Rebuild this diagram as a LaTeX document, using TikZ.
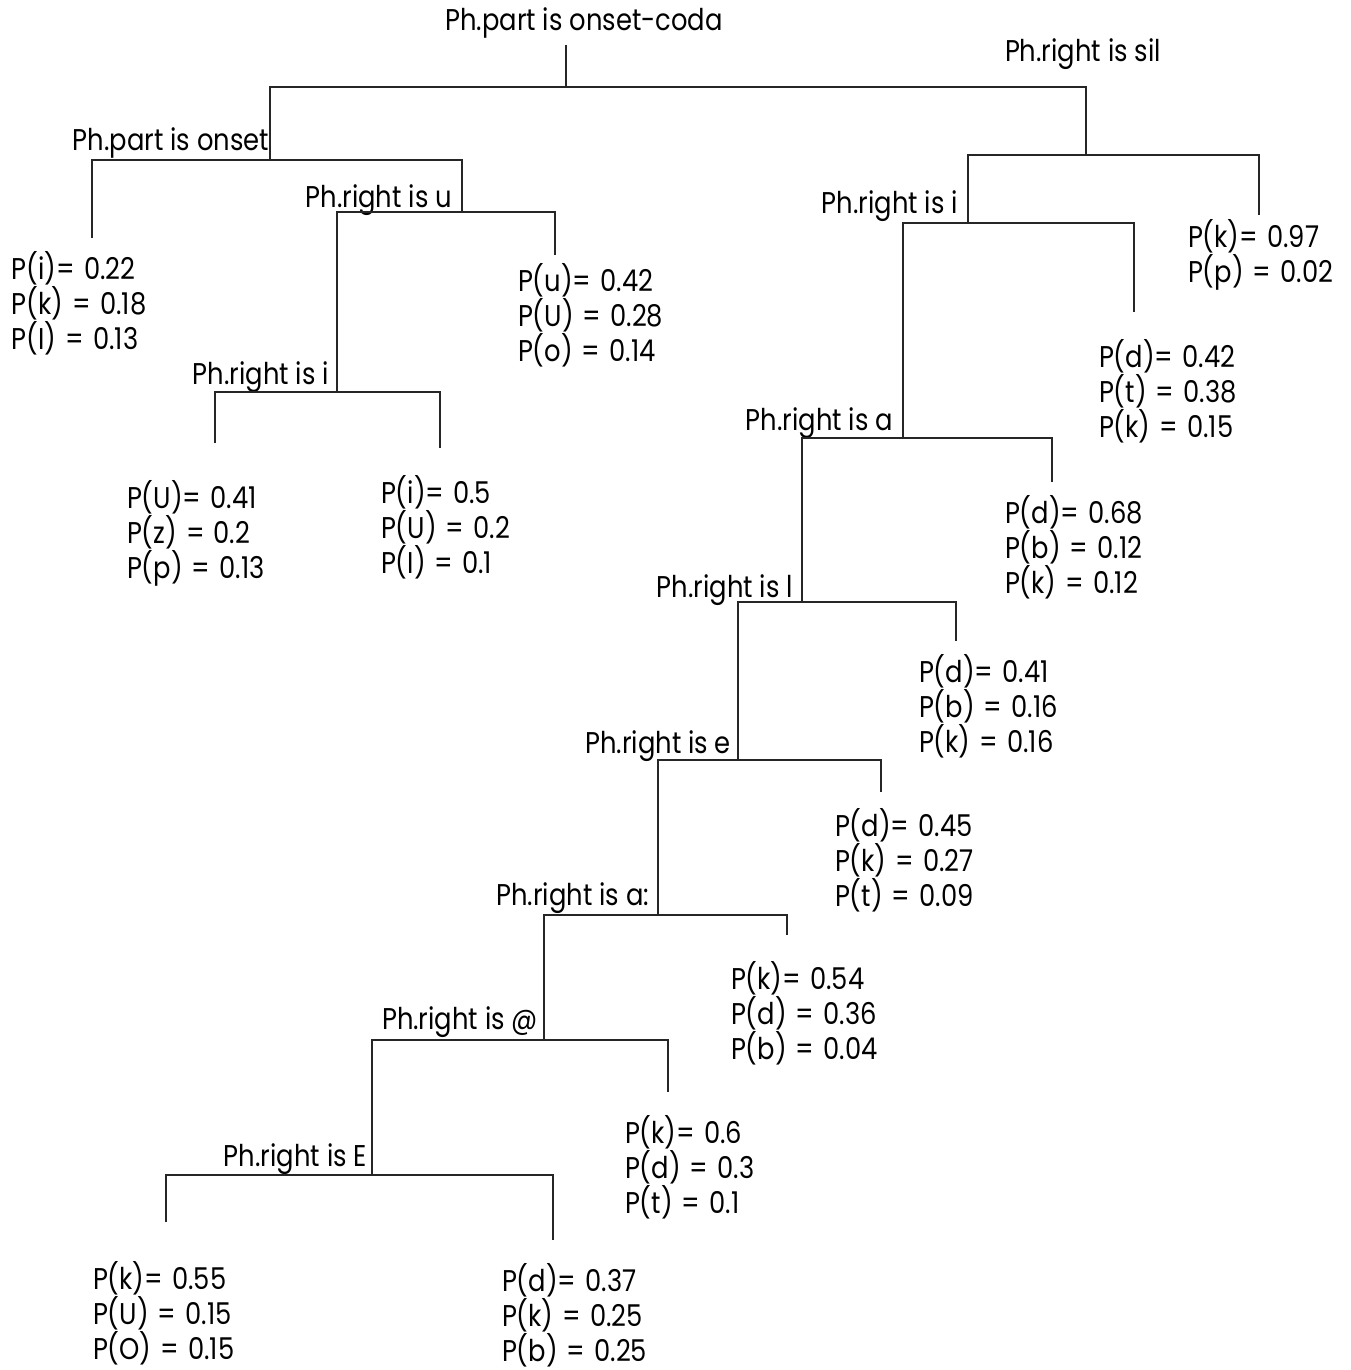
\documentclass[tikz,border=0pt]{standalone}
\usepackage{fontspec}
\setmainfont{Poppins}[FakeStretch=0.86]
\newcommand{\leafstack}[3]{\vtop{\spaceskip=9pt\baselineskip=35pt\hbox{#1}\hbox{#2}\hbox{#3}}}
\newcommand{\leafpair}[2]{\vtop{\spaceskip=9pt\baselineskip=35pt\hbox{#1}\hbox{#2}}}
\begin{document}
\begin{tikzpicture}[x=1pt,y=-1pt,
  every node/.style={font=\fontsize{30}{35}\selectfont, inner sep=0pt, outer sep=0pt},
  qlabel/.style={anchor=base east},
  leaftext/.style={anchor=base west},
  branch/.style={draw=black!85, line width=1.1pt}]
\fill[white] (0,0) rectangle (1350,1370);
\useasboundingbox (0,0) rectangle (1350,1370);

% question labels
\node[anchor=base] (root) at (584,31) {Ph.part is onset-coda};
\node[qlabel] (q1) at (269,150) {Ph.part is onset};
\node[qlabel] (q2) at (452,207) {Ph.right is u};
\node[qlabel] (q3) at (329,384) {Ph.right is i};
\node[anchor=base west] (q4) at (1005,62) {Ph.right is sil};
\node[qlabel] (q5) at (958,213) {Ph.right is i};
\node[qlabel] (q6) at (893,430) {Ph.right is a};
\node[qlabel] (q7) at (793,597) {Ph.right is l};
\node[qlabel] (q8) at (731,753) {Ph.right is e};
\node[qlabel] (q9) at (649,905) {Ph.right is a:};
\node[qlabel] (q10) at (538,1029) {Ph.right is @};
\node[qlabel] (q11) at (367,1166) {Ph.right is E};

% leaves
\node[leaftext] (lA) at (12,279) {\leafstack{P(i)= 0.22}{P(k) = 0.18}{P(I) = 0.13}};
\node[leaftext] (lB) at (518,291) {\leafstack{P(u)= 0.42}{P(U) = 0.28}{P(o) = 0.14}};
\node[leaftext] (lC) at (127,508) {\leafstack{P(U)= 0.41}{P(z) = 0.2}{P(p) = 0.13}};
\node[leaftext] (lD) at (381,503) {\leafstack{P(i)= 0.5}{P(U) = 0.2}{P(I) = 0.1}};
\node[leaftext] (lE) at (1188,247) {\leafpair{P(k)= 0.97}{P(p) = 0.02}};
\node[leaftext] (lF) at (1099,367) {\leafstack{P(d)= 0.42}{P(t) = 0.38}{P(k) = 0.15}};
\node[leaftext] (lG) at (1005,523) {\leafstack{P(d)= 0.68}{P(b) = 0.12}{P(k) = 0.12}};
\node[leaftext] (lH) at (919,682) {\leafstack{P(d)= 0.41}{P(b) = 0.16}{P(k) = 0.16}};
\node[leaftext] (lI) at (835,836) {\leafstack{P(d)= 0.45}{P(k) = 0.27}{P(t) = 0.09}};
\node[leaftext] (lJ) at (731,989) {\leafstack{P(k)= 0.54}{P(d) = 0.36}{P(b) = 0.04}};
\node[leaftext] (lK) at (625,1143) {\leafstack{P(k)= 0.6}{P(d) = 0.3}{P(t) = 0.1}};
\node[leaftext] (lL) at (93,1289) {\leafstack{P(k)= 0.55}{P(U) = 0.15}{P(O) = 0.15}};
\node[leaftext] (lM) at (502,1291) {\leafstack{P(d)= 0.37}{P(k) = 0.25}{P(b) = 0.25}};

% junction coordinates
\coordinate (s0) at (566,45);
\coordinate (j0) at (566,87);
\coordinate (j1) at (270,160);
\coordinate (j2) at (462,212);
\coordinate (j3) at (337,392);
\coordinate (j4) at (1086,155);
\coordinate (j5) at (968,223);
\coordinate (j6) at (903,438);
\coordinate (j7) at (802,602);
\coordinate (j8) at (738,760);
\coordinate (j9) at (658,915);
\coordinate (j10) at (544,1040);
\coordinate (j11) at (372,1175);
% leaf tops
\coordinate (tA) at (92,238);
\coordinate (tB) at (555,255);
\coordinate (tC) at (215,443);
\coordinate (tD) at (440,448);
\coordinate (tE) at (1259,215);
\coordinate (tF) at (1134,312);
\coordinate (tG) at (1052,482);
\coordinate (tH) at (956,641);
\coordinate (tI) at (881,792);
\coordinate (tJ) at (787,935);
\coordinate (tK) at (668,1092);
\coordinate (tL) at (166,1222);
\coordinate (tM) at (553,1240);

% branches
\draw[branch] (s0) -- (j0);
\draw[branch] (j1) |- (j0) -| (j4);
\draw[branch] (tA) |- (j1) -| (j2);
\draw[branch] (j3) |- (j2) -| (tB);
\draw[branch] (tC) |- (j3) -| (tD);
\draw[branch] (j5) |- (j4) -| (tE);
\draw[branch] (j6) |- (j5) -| (tF);
\draw[branch] (j7) |- (j6) -| (tG);
\draw[branch] (j8) |- (j7) -| (tH);
\draw[branch] (j9) |- (j8) -| (tI);
\draw[branch] (j10) |- (j9) -| (tJ);
\draw[branch] (j11) |- (j10) -| (tK);
\draw[branch] (tL) |- (j11) -| (tM);
\end{tikzpicture}
\end{document}
